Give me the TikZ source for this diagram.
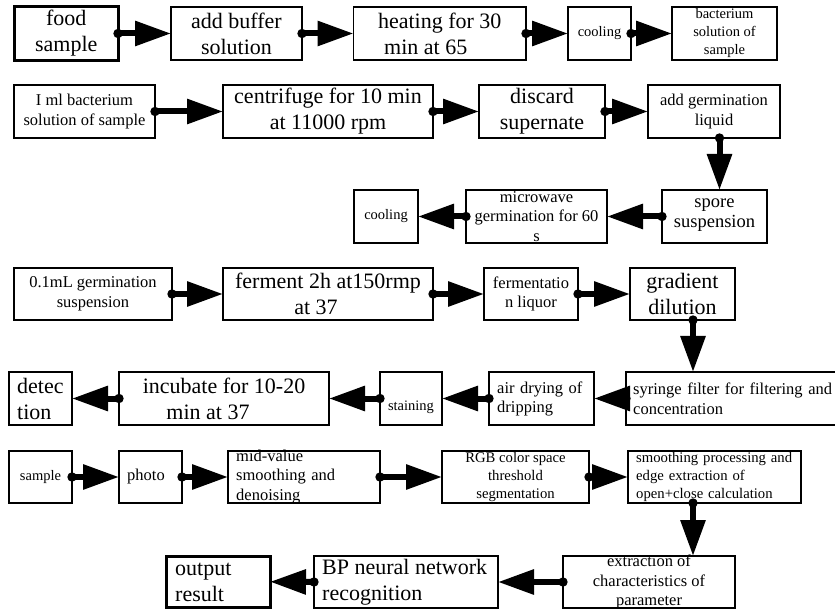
\documentclass[tikz,border=0pt]{standalone}
\usepackage{fontspec}
\setmainfont{Liberation Serif}
\usetikzlibrary{arrows.meta,fit}
\newcommand\fL{\fontsize{22}{26}\selectfont}
\newcommand\fLs{\fontsize{18.5}{20.5}\selectfont}
\newcommand\fM{\fontsize{16.5}{19.5}\selectfont}
\newcommand\fMs{\fontsize{14.7}{18}\selectfont}
\newcommand\fS{\fontsize{14.5}{18}\selectfont}
\tikzset{
  box/.style={draw=black, line width=1.1pt, inner sep=0pt, outer sep=0pt},
  thickbox/.style={box, line width=3pt},
  tL/.style={font=\fL, inner sep=0pt, align=center},
  tM/.style={font=\fM, inner sep=0pt, align=center},
  tS/.style={font=\fS, inner sep=0pt, align=center},
  flow/.style={line width=6pt, shorten <=-4.5pt,
    {Circle[length=9pt,width=9pt]}-{Triangle[length=36pt,width=24pt]}},
}
\begin{document}
\begin{tikzpicture}[x=1pt,y=-1pt]
\useasboundingbox[fill=white] (0,0) rectangle (835,609);
% ---------- row 1
\node[thickbox, fit={(14.5,6.5)(118,60.5)}] (A1) {};
\node[box, fit={(171,7)(302,60)}] (A2) {};
\node[box, fit={(353.5,7)(526,60)}] (A3) {};
\node[box, fit={(568,7)(631,60)}] (A4) {};
\node[box, fit={(672,7)(777,60)}] (A5) {};
\node[tL] at (A1) {food\\sample};
\node[tL] at (A2) {add buffer\\solution};
\node[tL] at (A3) {heating for 30\\min at 65\rule{28pt}{0pt}};
\node[tS] at (A4) {cooling};
\node[tS] at (A5) {bacterium\\solution of\\sample};
% ---------- row 2
\node[box, fit={(14,85)(155,138)}] (B1) {};
\node[box, fit={(223,85)(433,138)}] (B2) {};
\node[box, fit={(479,85)(605,138)}] (B3) {};
\node[box, fit={(648,85)(780,138)}] (B4) {};
\node[tM] at (B1) {I ml bacterium\\solution of sample};
\node[tL] at (B2) {centrifuge for 10 min\\at 11000 rpm};
\node[tL] at (B3) {discard\\supernate};
\node[tM] at (B4) {add germination\\liquid};
% ---------- row 3
\node[box, fit={(662,190)(767,243)}] (C1) {};
\node[box, fit={(466,190)(607,243)}] (C2) {};
\node[box, fit={(354,190)(418,243)}] (C3) {};
\node[tL, font=\fLs] at ([yshift=1.5pt]C1.center) {spore\\suspension};
\node[tM] at (C2) {microwave\\germination for 60\\s};
\node[tS] at (C3) {cooling};
% ---------- row 4
\node[box, fit={(14,268)(172,320)}] (D1) {};
\node[box, fit={(223,268)(433,320)}] (D2) {};
\node[box, fit={(484,268)(578,320)}] (D3) {};
\node[box, fit={(630,268)(735,320)}] (D4) {};
\node[tM] at (D1) {0.1mL germination\\suspension};
\node[tL] at (D2) {ferment 2h at150rmp\\at 37\rule{24pt}{0pt}};
\node[tM] at (D3) {fermentatio\\n liquor};
\node[tL] at (D4) {gradient\\dilution};
% ---------- row 5
\node[box, fit={(626,372)(845,425)}] (E1) {};
\node[box, fit={(489,372)(594,425)}] (E2) {};
\node[box, fit={(380,372)(442,425)}] (E3) {};
\node[box, fit={(119,372)(329,425)}] (E4) {};
\node[box, fit={(9,372)(72,425)}] (E5) {};
\node[tM, anchor=west, text width=201pt, align=left] at (633,399) {\makebox[201pt][s]{syringe filter for filtering and}\\concentration};
\node[tM, anchor=west, text width=91pt, align=left] at (497,399) {\makebox[91pt][s]{air drying of}\\dripping};
\node[tS] at (411,407) {staining};
\node[tL] at (E4) {incubate for 10-20\\min at 37\rule{32pt}{0pt}};
\node[tL, anchor=west, align=left] at (17,399) {detec\\tion};
% ---------- row 6
\node[box, fit={(9,451)(72,503)}] (F1) {};
\node[box, fit={(119,451)(182,503)}] (F2) {};
\node[box, fit={(228,451)(380,503)}] (F3) {};
\node[box, fit={(442,451)(589,503)}] (F4) {};
\node[box, fit={(628,451)(801,503)}] (F5) {};
\node[tS] at (F1) {sample};
\node[tM, anchor=west] at (127,477) {photo};
\node[tM, anchor=west, text width=136pt, align=left] at (236,477) {mid-value\\\makebox[136pt][s]{smoothing and}\\denoising};
\node[tM, font=\fMs] at (F4) {RGB color space\\threshold\\segmentation};
\node[tM, font=\fMs, anchor=west, text width=157pt, align=left] at (636,477) {\makebox[157pt][s]{smoothing processing and}\\\makebox[157pt][s]{edge extraction of}\\open+close calculation};
% ---------- row 7
\node[box, fit={(563,556)(735,608)}] (G1) {};
\node[box, fit={(314,556)(498,608)}] (G2) {};
\node[thickbox, fit={(166,556)(270,607.5)}] (G3) {};
\node[tM] at (G1) {extraction of\\characteristics of\\parameter};
\node[tL, anchor=west, align=left] at (322,582) {BP neural network\\recognition};
\node[tL, anchor=west, align=left] at (175,582) {output\\result};
% ---------- connectors
\draw[flow] (A1.east) -- (A2.west);
\draw[flow] (A2.east) -- (A3.west);
\draw[flow] (A3.east) -- (A4.west);
\draw[flow] (A4.east) -- (A5.west);
\draw[flow] (B1.east) -- (B2.west);
\draw[flow] (B2.east) -- (B3.west);
\draw[flow] (B3.east) -- (B4.west);
\draw[flow] ([xshift=5.5pt]B4.south) -- ([xshift=5.5pt]B4.south |- C1.north);
\draw[flow] (C1.west) -- (C2.east);
\draw[flow] (C2.west) -- (C3.east);
\draw[flow] (D1.east) -- (D2.west);
\draw[flow] (D2.east) -- (D3.west);
\draw[flow] (D3.east) -- (D4.west);
\draw[flow] ([xshift=10.5pt]D4.south) -- ([xshift=10.5pt]D4.south |- E1.north);
\draw[flow] (E1.west) -- (E2.east);
\draw[flow] (E2.west) -- (E3.east);
\draw[flow] (E3.west) -- (E4.east);
\draw[flow] (E4.west) -- (E5.east);
\draw[flow] (F1.east) -- (F2.west);
\draw[flow] (F2.east) -- (F3.west);
\draw[flow] (F3.east) -- (F4.west);
\draw[flow] (F4.east) -- (F5.west);
\draw[flow] ([xshift=-21.5pt]F5.south) -- ([xshift=-21.5pt]F5.south |- G1.north);
\draw[flow] (G1.west) -- (G2.east);
\draw[flow] (G2.west) -- (G3.east);
\end{tikzpicture}
\end{document}
